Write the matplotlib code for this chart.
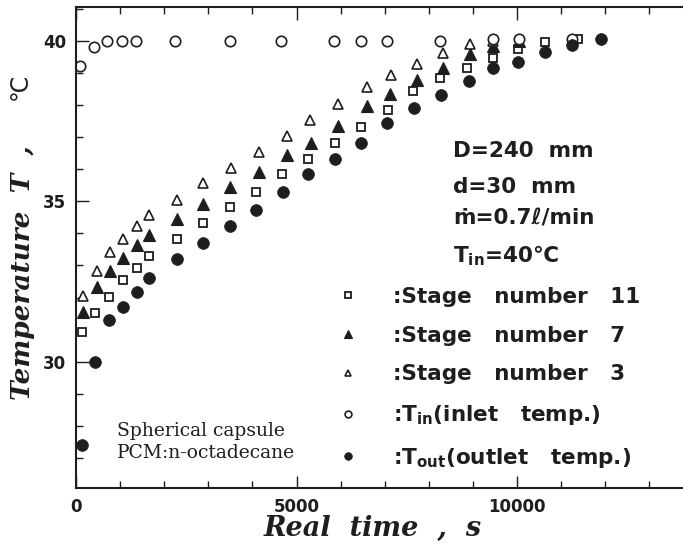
import matplotlib
matplotlib.use('Agg')
import matplotlib.pyplot as plt
from matplotlib.ticker import MultipleLocator
from matplotlib.font_manager import FontProperties

plt.rcParams['mathtext.fontset'] = 'dejavusans'

# inlet temperature (open circles)
t_in = [100, 400, 700, 1050, 1350, 2250, 3500, 4650, 5850, 6450, 7050, 8250, 9450, 10050, 11250]
T_in = [39.2, 39.8, 40.0, 40.0, 40.0, 40.0, 40.0, 40.0, 40.0, 40.0, 40.0, 40.0, 40.05, 40.05, 40.05]

# stage number 3 (open triangles)
t_s3 = [150, 470, 770, 1070, 1380, 1660, 2280, 2890, 3510, 4140, 4780, 5300, 5930, 6590,
        7140, 7730, 8330, 8930, 9450]
T_s3 = [32.05, 32.83, 33.43, 33.82, 34.24, 34.57, 35.04, 35.56, 36.04, 36.52, 37.02, 37.53,
        38.03, 38.55, 38.93, 39.26, 39.61, 39.9, 40.0]

# stage number 7 (filled triangles)
t_s7 = [150, 470, 770, 1070, 1380, 1660, 2280, 2890, 3490, 4140, 4780, 5320, 5930, 6590,
        7120, 7730, 8330, 8930, 9450, 10050]
T_s7 = [31.54, 32.34, 32.83, 33.22, 33.64, 33.95, 34.44, 34.93, 35.43, 35.92, 36.44, 36.83,
        37.35, 37.97, 38.34, 38.78, 39.16, 39.58, 39.85, 40.0]

# stage number 11 (open squares)
t_s11 = [130, 430, 750, 1060, 1380, 1660, 2280, 2890, 3490, 4080, 4660, 5250, 5870, 6460,
         7080, 7650, 8250, 8860, 9450, 10030, 10640, 11390]
T_s11 = [30.92, 31.51, 32.03, 32.55, 32.91, 33.29, 33.81, 34.33, 34.83, 35.30, 35.84, 36.32,
         36.82, 37.32, 37.84, 38.43, 38.83, 39.14, 39.45, 39.74, 39.95, 40.05]

# outlet temperature (filled circles)
t_out = [130, 430, 750, 1060, 1380, 1660, 2280, 2890, 3490, 4080, 4690, 5250, 5870, 6460,
         7060, 7660, 8270, 8900, 9450, 10030, 10640, 11240, 11900]
T_out = [27.41, 30.0, 31.30, 31.71, 32.18, 32.6, 33.2, 33.71, 34.24, 34.73, 35.30, 35.85,
         36.31, 36.80, 37.43, 37.92, 38.31, 38.74, 39.14, 39.33, 39.64, 39.87, 40.05]

labels = [':Stage   number   11', ':Stage   number   7', ':Stage   number   3',
          r':T$_{\mathbf{in}}$(inlet   temp.)', r':T$_{\mathbf{out}}$(outlet   temp.)']

ink = '#1e1e1e'

fig = plt.figure(figsize=(6.83, 5.47), dpi=100)
ax = fig.add_axes([76/683, 59/547, 607/683, 481/547])

l_s11, = ax.plot(t_s11, T_s11, ls='none', marker='s', ms=6, mfc='white', mec=ink, mew=1.3)
l_s7, = ax.plot(t_s7, T_s7, ls='none', marker='^', ms=8, mfc=ink, mec=ink, mew=0.8)
l_s3, = ax.plot(t_s3, T_s3, ls='none', marker='^', ms=7.5, mfc='white', mec=ink, mew=1.2)
l_in, = ax.plot(t_in, T_in, ls='none', marker='o', ms=7.5, mfc='white', mec=ink, mew=1.2)
l_out, = ax.plot(t_out, T_out, ls='none', marker='o', ms=8.5, mfc=ink, mec=ink, mew=0.5)

ax.set_xlim(0, 13760)
ax.set_ylim(26.07, 41.05)

ax.xaxis.set_major_locator(MultipleLocator(5000))
ax.xaxis.set_minor_locator(MultipleLocator(1000))
ax.yaxis.set_major_locator(MultipleLocator(5))
ax.yaxis.set_minor_locator(MultipleLocator(1))
ax.tick_params(which='both', direction='in', top=True, right=False, width=1.0, color=ink)
ax.tick_params(which='major', length=9, pad=7)
ax.tick_params(which='minor', length=5)
for lab in ax.get_xticklabels() + ax.get_yticklabels():
    lab.set_fontfamily('DejaVu Sans')
    lab.set_fontweight('bold')
    lab.set_fontsize(12)
    lab.set_color(ink)

for s in ['left', 'bottom', 'top']:
    ax.spines[s].set_linewidth(1.5)
    ax.spines[s].set_color(ink)
ax.spines['right'].set_visible(False)

ax.set_xlabel('Real  time  ,  s', family='DejaVu Serif', style='italic', weight='bold',
              fontsize=19.5, color=ink)
ax.set_ylabel('Temperature  T  ,', family='DejaVu Serif',
              style='italic', weight='bold', fontsize=19, color=ink)
ax.xaxis.set_label_coords(0.489, -0.056)
ax.yaxis.set_label_coords(-0.068, 0.447)
# unit of the y label, upright as in the original
ax.text(-0.092, 0.834, '\u2103', transform=ax.transAxes, rotation=90, ha='center',
        va='center', family='DejaVu Sans', fontsize=17, color=ink)

cond = dict(transform=ax.transAxes, family='DejaVu Sans', weight='bold', fontsize=15.5,
            color=ink, va='baseline', ha='left')
ax.text(0.621, 0.689, 'D=240  mm', **cond)
ax.text(0.621, 0.614, 'd=30  mm', **cond)
ax.text(0.621, 0.547, '\u1e41=0.7\u2113/min', **cond)
ax.text(0.621, 0.470, r'T$_{\mathbf{in}}$=40' + '\u2103', **cond)

note = dict(transform=ax.transAxes, family='DejaVu Serif', fontsize=13.5, color=ink,
            va='baseline', ha='left')
ax.text(0.0675, 0.108, 'Spherical capsule', **note)
ax.text(0.0675, 0.063, 'PCM:n-octadecane', **note)

ax.legend([l_s11, l_s7, l_s3, l_in, l_out], labels, loc='upper left',
          bbox_to_anchor=(0.430, 0.418), frameon=False, markerscale=0.65,
          handlelength=1.0, handletextpad=1.6, labelspacing=0.87, borderpad=0,
          borderaxespad=0, labelcolor=ink,
          prop=FontProperties(family='DejaVu Sans', weight='bold', size=15.5))

fig.savefig('out.png', dpi=100, facecolor='white')
